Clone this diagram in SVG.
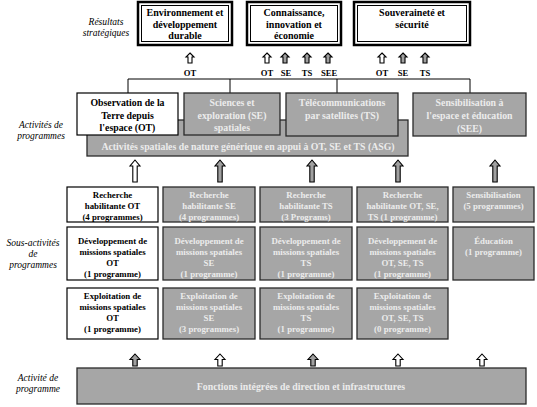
<svg xmlns="http://www.w3.org/2000/svg" width="537" height="407" viewBox="0 0 537 407">
<style>
text{font-family:"Liberation Serif","Times New Roman",serif;text-anchor:middle}
.lab{font-style:italic;font-size:9.5px;fill:#000}
.sb{font-weight:bold;font-size:10px;fill:#000}
.pb{font-weight:bold;font-size:9.8px;fill:#000}
.pg{font-weight:bold;font-size:9.8px;fill:#ececec}
.sub{font-weight:bold;font-size:8.8px;fill:#000}
.subg{font-weight:bold;font-size:8.8px;fill:#ececec}
.tag{font-weight:bold;font-size:8.6px;fill:#000}
.outer{fill:#fff;stroke:#000;stroke-width:2.5}
.inner{fill:none;stroke:#000;stroke-width:1}
.wbox{fill:#fff;stroke:#000;stroke-width:1.2}
.gbox{fill:#a6a6a6;stroke:#2a2a2a;stroke-width:1.3}
.line{fill:none;stroke:#000;stroke-width:1}
.aw{fill:#fff;stroke:#000;stroke-width:1.1}
.ag{fill:#a0a0a0;stroke:#000;stroke-width:1.1}
</style>
<defs>
<path id="aTop" d="M0,0 L4,4 L2,4 L2,10 L-2,10 L-2,4 L-4,4 Z"/>
<path id="aMid" d="M0,0 L5,6 L2.2,6 L2.2,22 L-2.2,22 L-2.2,6 L-5,6 Z"/>
<path id="aBot" d="M0,0 L5,5.5 L2.2,5.5 L2.2,12 L-2.2,12 L-2.2,5.5 L-5,5.5 Z"/>
</defs>

<g id="labels">
<text class="lab" x="106" y="25">Résultats</text>
<text class="lab" x="106" y="36">stratégiques</text>
<text class="lab" x="41" y="128">Activités de</text>
<text class="lab" x="41" y="139">programmes</text>
<text class="lab" x="33" y="246">Sous-activités</text>
<text class="lab" x="33" y="257">de</text>
<text class="lab" x="33" y="268">programmes</text>
<text class="lab" x="38" y="381">Activité de</text>
<text class="lab" x="38" y="392">programme</text>
</g>

<g id="res-env">
<rect class="outer" x="138" y="2" width="94" height="43"/>
<rect class="inner" x="141.5" y="5.5" width="87" height="36"/>
<text class="sb" x="185" y="16">Environnement et</text>
<text class="sb" x="185" y="27.5">développement</text>
<text class="sb" x="185" y="38.5">durable</text>
</g>
<g id="res-con">
<rect class="outer" x="247" y="2" width="94" height="43"/>
<rect class="inner" x="250.5" y="5.5" width="87" height="36"/>
<text class="sb" x="294" y="16">Connaissance,</text>
<text class="sb" x="294" y="27.5">innovation et</text>
<text class="sb" x="294" y="38.5">économie</text>
</g>
<g id="res-sou">
<rect class="outer" x="354" y="2" width="116" height="43"/>
<rect class="inner" x="357.5" y="5.5" width="109" height="36"/>
<text class="sb" x="412" y="16">Souveraineté et</text>
<text class="sb" x="412" y="28">sécurité</text>
</g>

<g id="connectors">
<polyline class="line" points="128,93 128,79 470,79 470,93"/>
<line class="line" x1="230" y1="79" x2="230" y2="93"/>
<line class="line" x1="337" y1="79" x2="337" y2="93"/>
<use href="#aTop" class="aw" x="190" y="53"/>
<use href="#aTop" class="aw" x="267" y="53"/>
<use href="#aTop" class="ag" x="285" y="53"/>
<use href="#aTop" class="ag" x="307" y="53"/>
<use href="#aTop" class="ag" x="328" y="53"/>
<use href="#aTop" class="aw" x="382" y="53"/>
<use href="#aTop" class="ag" x="403" y="53"/>
<use href="#aTop" class="ag" x="425" y="53"/>
<text class="tag" x="190" y="76">OT</text>
<text class="tag" x="267" y="76">OT</text>
<text class="tag" x="286" y="76">SE</text>
<text class="tag" x="307" y="76">TS</text>
<text class="tag" x="329" y="76">SEE</text>
<text class="tag" x="382" y="76">OT</text>
<text class="tag" x="403" y="76">SE</text>
<text class="tag" x="425" y="76">TS</text>
<use href="#aMid" class="aw" x="135" y="160"/>
<use href="#aMid" class="ag" x="220" y="160"/>
<use href="#aMid" class="ag" x="312" y="160"/>
<use href="#aMid" class="ag" x="398" y="160"/>
<use href="#aMid" class="ag" x="495" y="160"/>
<use href="#aBot" class="ag" x="135" y="354"/>
<use href="#aBot" class="aw" x="220" y="354"/>
<use href="#aBot" class="ag" x="313" y="354"/>
<use href="#aBot" class="aw" x="398" y="354"/>
<use href="#aBot" class="aw" x="482" y="354"/>
</g>

<g id="asg">
<rect class="gbox" x="87" y="120" width="321" height="36"/>
<text class="pg" x="248" y="150">Activités spatiales de nature générique en appui à OT, SE et TS (ASG)</text>
</g>
<g id="prog-ot">
<rect class="wbox" x="77" y="93" width="101" height="42"/>
<text class="pb" x="127.5" y="106">Observation de la</text>
<text class="pb" x="127.5" y="118.5">Terre depuis</text>
<text class="pb" x="127.5" y="131">l'espace (OT)</text>
</g>
<g id="prog-se">
<rect class="gbox" x="184" y="93" width="96" height="42"/>
<text class="pg" x="232" y="106">Sciences et</text>
<text class="pg" x="232" y="118.5">exploration (SE)</text>
<text class="pg" x="232" y="131">spatiales</text>
</g>
<g id="prog-ts">
<rect class="gbox" x="286" y="93" width="112" height="43"/>
<text class="pg" x="342" y="106">Télécommunications</text>
<text class="pg" x="342" y="119">par satellites (TS)</text>
</g>
<g id="prog-see">
<rect class="gbox" x="413" y="93" width="113" height="43"/>
<text class="pg" x="469.5" y="106">Sensibilisation à</text>
<text class="pg" x="469.5" y="119">l'espace et éducation</text>
<text class="pg" x="469.5" y="131.5">(SEE)</text>
</g>

<g id="r1c1">
<rect class="wbox" x="67" y="187" width="91" height="35"/>
<text class="sub" x="112.5" y="198">Recherche</text>
<text class="sub" x="112.5" y="209">habilitante OT</text>
<text class="sub" x="112.5" y="220">(4 programmes)</text>
</g>
<g id="r1c2">
<rect class="gbox" x="163" y="187" width="92" height="35"/>
<text class="subg" x="209" y="198">Recherche</text>
<text class="subg" x="209" y="209">habilitante SE</text>
<text class="subg" x="209" y="220">(4 programmes)</text>
</g>
<g id="r1c3">
<rect class="gbox" x="260" y="187" width="92" height="35"/>
<text class="subg" x="306" y="198">Recherche</text>
<text class="subg" x="306" y="209">habilitante TS</text>
<text class="subg" x="306" y="220">(3 Programs)</text>
</g>
<g id="r1c4">
<rect class="gbox" x="357" y="187" width="91" height="35"/>
<text class="subg" x="402.5" y="198">Recherche</text>
<text class="subg" x="402.5" y="209">habilitante OT, SE,</text>
<text class="subg" x="402.5" y="220">TS (1 programme)</text>
</g>
<g id="r1c5">
<rect class="gbox" x="453" y="187" width="81" height="35"/>
<text class="subg" x="493.5" y="198">Sensibilisation</text>
<text class="subg" x="493.5" y="209">(5 programmes)</text>
</g>

<g id="r2c1">
<rect class="wbox" x="67" y="227" width="91" height="53"/>
<text class="sub" x="112.5" y="244">Développement de</text>
<text class="sub" x="112.5" y="255">missions spatiales</text>
<text class="sub" x="112.5" y="266">OT</text>
<text class="sub" x="112.5" y="277">(1 programme)</text>
</g>
<g id="r2c2">
<rect class="gbox" x="163" y="227" width="92" height="53"/>
<text class="subg" x="209" y="244">Développement de</text>
<text class="subg" x="209" y="255">missions spatiales</text>
<text class="subg" x="209" y="266">SE</text>
<text class="subg" x="209" y="277">(1 programme)</text>
</g>
<g id="r2c3">
<rect class="gbox" x="260" y="227" width="92" height="53"/>
<text class="subg" x="306" y="244">Développement de</text>
<text class="subg" x="306" y="255">missions spatiales</text>
<text class="subg" x="306" y="266">TS</text>
<text class="subg" x="306" y="277">(1 programme)</text>
</g>
<g id="r2c4">
<rect class="gbox" x="357" y="227" width="91" height="53"/>
<text class="subg" x="402.5" y="244">Développement de</text>
<text class="subg" x="402.5" y="255">missions spatiales</text>
<text class="subg" x="402.5" y="266">OT, SE, TS</text>
<text class="subg" x="402.5" y="277">(1 programme)</text>
</g>
<g id="r2c5">
<rect class="gbox" x="453" y="227" width="81" height="53"/>
<text class="subg" x="493.5" y="244">Éducation</text>
<text class="subg" x="493.5" y="255">(1 programme)</text>
</g>

<g id="r3c1">
<rect class="wbox" x="67" y="288" width="91" height="51"/>
<text class="sub" x="112.5" y="299">Exploitation de</text>
<text class="sub" x="112.5" y="310">missions spatiales</text>
<text class="sub" x="112.5" y="321">OT</text>
<text class="sub" x="112.5" y="332">(1 programme)</text>
</g>
<g id="r3c2">
<rect class="gbox" x="163" y="288" width="92" height="51"/>
<text class="subg" x="209" y="299">Exploitation de</text>
<text class="subg" x="209" y="310">missions spatiales</text>
<text class="subg" x="209" y="321">SE</text>
<text class="subg" x="209" y="332">(3 programmes)</text>
</g>
<g id="r3c3">
<rect class="gbox" x="260" y="288" width="92" height="51"/>
<text class="subg" x="306" y="299">Exploitation de</text>
<text class="subg" x="306" y="310">missions spatiales</text>
<text class="subg" x="306" y="321">TS</text>
<text class="subg" x="306" y="332">(1 programme)</text>
</g>
<g id="r3c4">
<rect class="gbox" x="357" y="288" width="91" height="51"/>
<text class="subg" x="402.5" y="299">Exploitation de</text>
<text class="subg" x="402.5" y="310">missions spatiales</text>
<text class="subg" x="402.5" y="321">OT, SE, TS</text>
<text class="subg" x="402.5" y="332">(0 programme)</text>
</g>

<g id="fonctions">
<rect class="gbox" x="77" y="368" width="449" height="36"/>
<text class="pg" x="301" y="390">Fonctions intégrées de direction et infrastructures</text>
</g>
</svg>
